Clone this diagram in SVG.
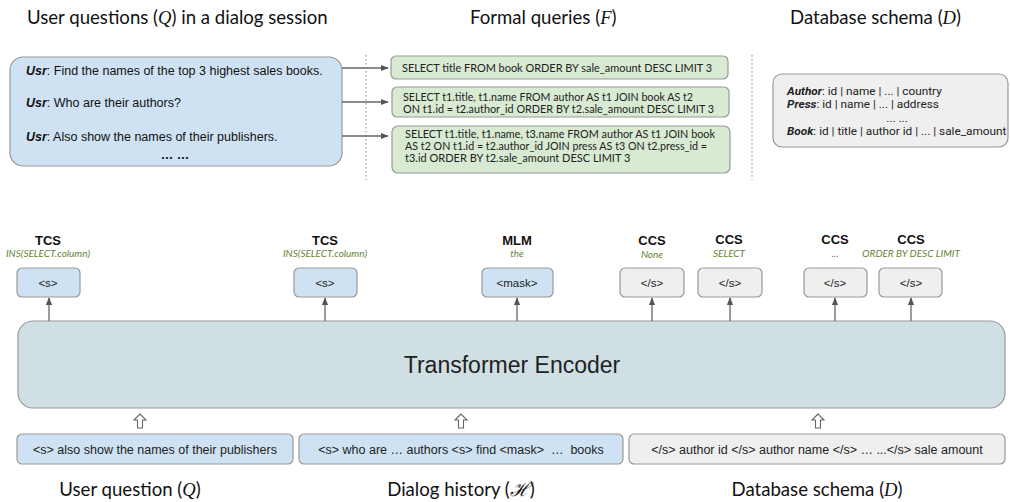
<svg xmlns="http://www.w3.org/2000/svg" width="1010" height="502" viewBox="0 0 1010 502">
<defs>
<style>
.hdr{font-family:Lato,"Open Sans",sans-serif;font-size:18.6px;fill:#111}
.m{font-family:"Liberation Serif",serif;font-style:italic}
.ar{font-family:"Liberation Sans",Arial,sans-serif;fill:#111}
.q{font-family:Lato,sans-serif;font-size:11px;fill:#222}
.sc{font-family:Roboto,sans-serif;font-size:11.8px;fill:#222}
.blue{fill:#cfe2f3;stroke:#999;stroke-width:1.2}
.green{fill:#d9ead3;stroke:#999;stroke-width:1.2}
.gray{fill:#efefef;stroke:#999;stroke-width:1.2}
.ttl{font-family:"Liberation Sans",Arial,sans-serif;font-weight:bold;font-size:13px;fill:#111;text-anchor:middle}
.sub{font-family:Lato,sans-serif;font-style:italic;font-size:10px;fill:#5f8535;text-anchor:middle}
.tok{font-family:"Liberation Sans",Arial,sans-serif;font-size:11.5px;fill:#222;text-anchor:middle}
.inp{font-family:"Liberation Sans",Arial,sans-serif;font-size:12.5px;fill:#222;text-anchor:middle}
.ln{stroke:#666;stroke-width:1.3;fill:none}
.dot{stroke:#888;stroke-width:1;stroke-dasharray:1.5 2.5;fill:none}
.hol{fill:#fff;stroke:#666;stroke-width:1.1}
</style>
<marker id="ah" viewBox="0 0 10 10" refX="9" refY="5" markerWidth="6" markerHeight="6" orient="auto">
<path d="M0,1 L10,5 L0,9 z" fill="#555"/>
</marker>
</defs>
<rect width="1010" height="502" fill="#fff"/>

<g id="headers">
<text class="hdr" x="27" y="24">User questions (<tspan class="m">Q</tspan>) in a dialog session</text>
<text class="hdr" x="470" y="24">Formal queries (<tspan class="m">F</tspan>)</text>
<text class="hdr" x="790" y="24">Database schema (<tspan class="m">D</tspan>)</text>
</g>

<g id="dividers">
<line class="dot" x1="366" y1="55" x2="366" y2="180"/>
<line class="dot" x1="752" y1="55" x2="752" y2="180"/>
</g>

<g id="user-questions">
<rect class="blue" x="10" y="57" width="332" height="109" rx="13"/>
<text class="ar" x="26" y="75" font-size="12.5"><tspan font-weight="bold" font-style="italic">Usr</tspan>: Find the names of the top 3 highest sales books.</text>
<text class="ar" x="26" y="107" font-size="12.5"><tspan font-weight="bold" font-style="italic">Usr</tspan>: Who are their authors?</text>
<text class="ar" x="26" y="141" font-size="12.5"><tspan font-weight="bold" font-style="italic">Usr</tspan>: Also show the names of their publishers.</text>
<text class="ar" x="175" y="159" font-size="12.5" font-weight="bold" text-anchor="middle">… …</text>
</g>

<g id="query1">
<rect class="green" x="391" y="56" width="337" height="23" rx="5"/>
<text class="q" x="402" y="72" textLength="310" lengthAdjust="spacingAndGlyphs">SELECT title FROM book ORDER BY sale_amount DESC LIMIT 3</text>
</g>
<g id="query2">
<rect class="green" x="392" y="87" width="337" height="30" rx="5"/>
<text class="q" x="403" y="101" textLength="290" lengthAdjust="spacingAndGlyphs">SELECT t1.title, t1.name FROM author AS t1 JOIN book AS t2</text>
<text class="q" x="403" y="113" textLength="311" lengthAdjust="spacingAndGlyphs">ON t1.id = t2.author_id ORDER BY t2.sale_amount DESC LIMIT 3</text>
</g>
<g id="query3">
<rect class="green" x="392" y="126" width="338" height="47" rx="6"/>
<text class="q" x="405" y="138" textLength="310" lengthAdjust="spacingAndGlyphs">SELECT t1.title, t1.name, t3.name FROM author AS t1 JOIN book</text>
<text class="q" x="405" y="150" textLength="302" lengthAdjust="spacingAndGlyphs">AS t2 ON t1.id = t2.author_id JOIN press AS t3 ON t2.press_id =</text>
<text class="q" x="405" y="162">t3.id ORDER BY t2.sale_amount DESC LIMIT 3</text>
</g>

<g id="schema">
<rect class="gray" x="773" y="74" width="235" height="73" rx="9"/>
<text class="sc" x="787" y="95"><tspan font-weight="bold" font-style="italic">Author</tspan>: id | name | ... | country</text>
<text class="sc" x="787" y="108"><tspan font-weight="bold" font-style="italic">Press</tspan>: id | name | ... | address</text>
<text class="sc" x="897" y="122" text-anchor="middle" font-size="9">... ...</text>
<text class="sc" x="787" y="135"><tspan font-weight="bold" font-style="italic">Book</tspan>: id | title | author id | ... | sale_amount</text>
</g>

<g id="out-tcs1">
<text class="ttl" x="48" y="245">TCS</text>
<text class="sub" x="48" y="257">INS(SELECT.column)</text>
<rect class="blue" x="17" y="268" width="63" height="29" rx="5"/>
<text class="tok" x="48" y="287">&lt;s&gt;</text>
</g>
<g id="out-tcs2">
<text class="ttl" x="325" y="245">TCS</text>
<text class="sub" x="325" y="257">INS(SELECT.column)</text>
<rect class="blue" x="294" y="268" width="63" height="29" rx="5"/>
<text class="tok" x="325" y="287">&lt;s&gt;</text>
</g>
<g id="out-mlm">
<text class="ttl" x="517" y="245">MLM</text>
<text class="sub" x="517" y="257">the</text>
<rect class="blue" x="482" y="268" width="71" height="29" rx="5"/>
<text class="tok" x="517" y="287">&lt;mask&gt;</text>
</g>
<g id="out-ccs1">
<text class="ttl" x="652" y="245">CCS</text>
<text class="sub" x="652" y="258">None</text>
<rect class="gray" x="620" y="268" width="64" height="29" rx="5"/>
<text class="tok" x="652" y="287">&lt;/s&gt;</text>
</g>
<g id="out-ccs2">
<text class="ttl" x="729" y="244">CCS</text>
<text class="sub" x="729" y="257">SELECT</text>
<rect class="gray" x="698" y="268" width="64" height="29" rx="5"/>
<text class="tok" x="730" y="287">&lt;/s&gt;</text>
</g>
<g id="out-ccs3">
<text class="ttl" x="835" y="244">CCS</text>
<text class="sub" x="835" y="257">...</text>
<rect class="gray" x="804" y="268" width="63" height="29" rx="5"/>
<text class="tok" x="835" y="287">&lt;/s&gt;</text>
</g>
<g id="out-ccs4">
<text class="ttl" x="911" y="244">CCS</text>
<text class="sub" x="911" y="257">ORDER BY DESC LIMIT</text>
<rect class="gray" x="879" y="268" width="63" height="29" rx="5"/>
<text class="tok" x="911" y="287">&lt;/s&gt;</text>
</g>

<g id="encoder">
<rect x="18" y="321" width="987" height="87" rx="15" fill="#d0dfe3" stroke="#999" stroke-width="1.2"/>
<text x="512" y="373" text-anchor="middle" font-family="'Liberation Sans',Arial,sans-serif" font-size="23" fill="#222">Transformer Encoder</text>
</g>

<g id="in-question">
<rect class="blue" x="17" y="434" width="276" height="30" rx="5"/>
<text class="inp" x="155" y="454">&lt;s&gt; also show the names of their publishers</text>
</g>
<g id="in-history">
<rect class="blue" x="299" y="434" width="324" height="30" rx="5"/>
<text class="inp" x="461" y="454" xml:space="preserve">&lt;s&gt; who are … authors &lt;s&gt; find &lt;mask&gt;  …  books</text>
</g>
<g id="in-schema">
<rect class="gray" x="629" y="434" width="376" height="30" rx="5"/>
<text class="inp" x="817" y="454">&lt;/s&gt; author id &lt;/s&gt; author name &lt;/s&gt; … ...&lt;/s&gt; sale amount</text>
</g>

<g id="footers">
<text class="hdr" x="130" y="496" text-anchor="middle">User question (<tspan class="m">Q</tspan>)</text>
<text class="hdr" x="461" y="496" text-anchor="middle">Dialog history (<tspan class="m">ℋ</tspan>)</text>
<text class="hdr" x="817" y="496" text-anchor="middle">Database schema (<tspan class="m">D</tspan>)</text>
</g>

<g id="connectors">
<line class="ln" x1="342" y1="68" x2="388" y2="68" marker-end="url(#ah)"/>
<line class="ln" x1="342" y1="102" x2="388" y2="102" marker-end="url(#ah)"/>
<line class="ln" x1="342" y1="136" x2="388" y2="136" marker-end="url(#ah)"/>
<line class="ln" x1="49" y1="321" x2="49" y2="298" marker-end="url(#ah)"/>
<line class="ln" x1="325" y1="321" x2="325" y2="298" marker-end="url(#ah)"/>
<line class="ln" x1="517" y1="321" x2="517" y2="298" marker-end="url(#ah)"/>
<line class="ln" x1="652" y1="321" x2="652" y2="298" marker-end="url(#ah)"/>
<line class="ln" x1="730" y1="321" x2="730" y2="298" marker-end="url(#ah)"/>
<line class="ln" x1="835" y1="321" x2="835" y2="298" marker-end="url(#ah)"/>
<line class="ln" x1="911" y1="321" x2="911" y2="298" marker-end="url(#ah)"/>
<path class="hol" d="M140,414 l-6,6 h3.5 v8 h5 v-8 h3.5 z"/>
<path class="hol" d="M461,414 l-6,6 h3.5 v8 h5 v-8 h3.5 z"/>
<path class="hol" d="M818,414 l-6,6 h3.5 v8 h5 v-8 h3.5 z"/>
</g>
</svg>
